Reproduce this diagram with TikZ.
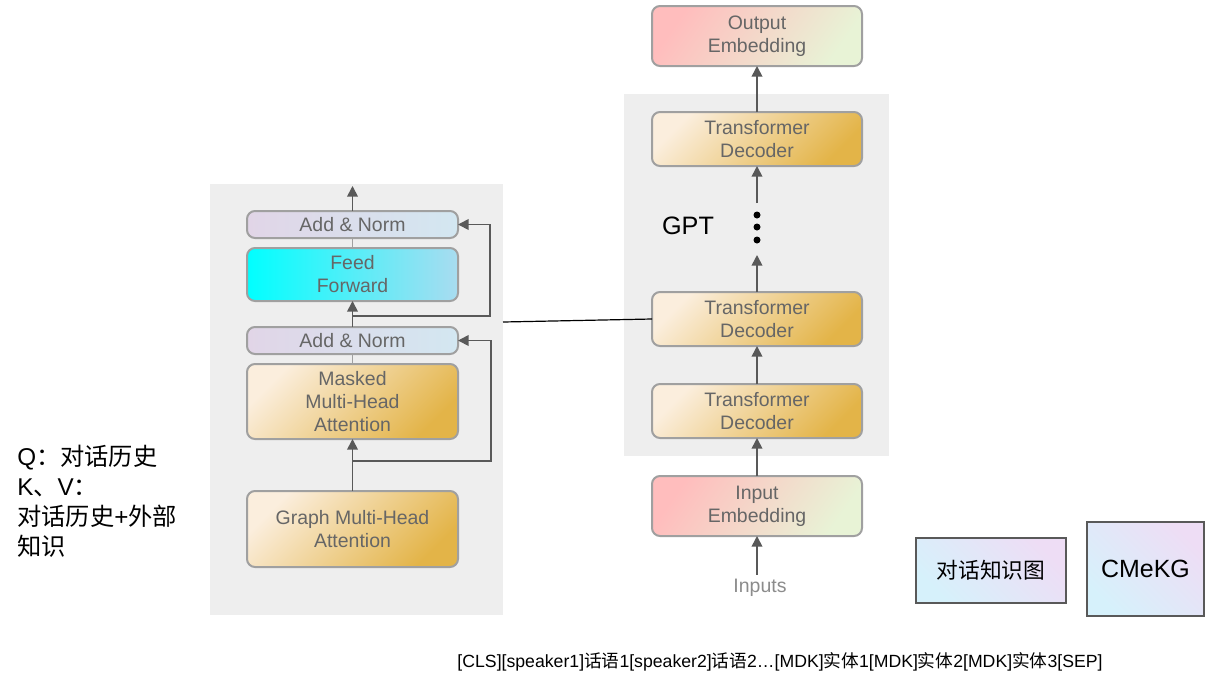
\documentclass[tikz,border=0pt]{standalone}
\usepackage{fontspec}
\setmainfont{Liberation Sans}
\newfontfamily\cjk{Noto Sans CJK SC}
\usetikzlibrary{arrows.meta,positioning,shapes.misc}

\definecolor{panelgray}{HTML}{EEEEEE}
\definecolor{boxline}{HTML}{A0A0A0}
\definecolor{boxtext}{HTML}{666666}
\definecolor{arrowgray}{HTML}{595959}
\definecolor{anL}{HTML}{E1D5E7}
\definecolor{anR}{HTML}{D3E7F1}
\definecolor{ffL}{HTML}{00FFFF}
\definecolor{ffR}{HTML}{A9DCF0}
\definecolor{warmA}{HTML}{FBEEDD}
\definecolor{warmB}{HTML}{E3B448}
\definecolor{embA}{HTML}{FFBDBD}
\definecolor{embB}{HTML}{E8F3D6}
\definecolor{kgA}{HTML}{D6F1FB}
\definecolor{kgB}{HTML}{EEDDF5}

\begin{document}
\begin{tikzpicture}[x=0.75pt,y=-0.75pt]
\tikzset{blk/.style ={draw=boxline, line width=1.5pt, rounded corners=6pt, inner sep=0pt, outer sep=0pt, align=center, text=boxtext, font=\fontsize{14.6}{17.25}\selectfont},
  addnorm/.style ={blk, left color=anL, right color=anR, minimum width=158.25pt, minimum height=20.25pt},
  feedfwd/.style ={blk, left color=ffL, right color=ffR, minimum width=158.25pt, minimum height=39.75pt},
  attn/.style ={blk, top color=warmA, bottom color=warmB, shading angle=45, minimum width=158.25pt},
  decoder/.style ={blk, top color=warmA, bottom color=warmB, shading angle=45, minimum width=157.5pt, minimum height=40.5pt},
  embed/.style ={blk, top color=embA, bottom color=embB, shading angle=55, minimum width=157.5pt, minimum height=45pt},
  kgbox/.style ={draw=black!65, line width=0.9pt, inner sep=0pt, outer sep=0pt, bottom color=kgA, top color=kgB, shading angle=-45, font=\fontsize{16.3}{20}\selectfont},
  panel/.style ={fill=panelgray, inner sep=0pt, outer sep=0pt},
  flow/.style ={draw=arrowgray, line width=1.3pt, -{Triangle[width=8pt,length=8pt]}},
  joint/.style ={draw=boxline, line width=0.8pt}}
\useasboundingbox[fill=white] (0,0) rectangle (1226,693);

% panels
\node[panel, minimum width=219.75pt, minimum height=323.25pt] (lpanel) at (356.5,399.5) {};
\node[panel, minimum width=198.75pt, minimum height=271.5pt] (rpanel) at (756.5,275) {};

% graph attention block
\node[attn, minimum height=57pt] (gmha) at (352.5,529) {Graph Multi-Head\\Attention};
\node[attn, minimum height=56.25pt] (mmha) at (352.5,401.5) {Masked\\Multi-Head\\Attention};
\node[addnorm] (an2) at (352.5,340.5) {Add \& Norm};
\node[feedfwd] (ff) at (352.5,274.5) {Feed\\Forward};
\node[addnorm] (an1) at (352.5,224.5) {Add \& Norm};
\coordinate (out1) at (352.5,186);
\coordinate (res1) at (352.5,461);
\coordinate (res2) at (352.5,316);

\draw[flow] (gmha.north) -- (mmha.south);
\draw[joint] (mmha.north) -- (an2.south);
\draw[flow] (an2.north) -- (ff.south);
\draw[joint] (ff.north) -- (an1.south);
\draw[flow] (an1.north) -- (out1);
\draw[flow] (res1) -- (491,461) |- (an2.east);
\draw[flow] (res2) -- (490,316) |- (an1.east);

% GPT stack
\node[embed] (oe) at (757,36) {Output\\Embedding};
\node[decoder] (td4) at (757,139) {Transformer\\Decoder};
\node[decoder] (td2) at (757,319) {Transformer\\Decoder};
\node[decoder] (td1) at (757,411) {Transformer\\Decoder};
\node[embed] (ie) at (757,506) {Input\\Embedding};
\node[text=black!45, font=\fontsize{14.6}{17}\selectfont] (inp) at (760,588) {Inputs};
\node[font=\fontsize{18.9}{22}\selectfont] (gpt) at (688,226) {GPT};
\foreach \y in {215,227,240}
  \fill (757,\y) circle (3.5);
\coordinate (dtop) at (757,203);
\coordinate (dbot) at (757,255);

\draw[flow] (td4.north) -- (oe.south);
\draw[flow] (dtop) -- (td4.south);
\draw[flow] (td2.north) -- (dbot);
\draw[flow] (td1.north) -- (td2.south);
\draw[flow] (ie.north) -- (td1.south);
\draw[flow] (inp.north -| ie.south) -- (ie.south);
\draw[line width=0.9pt] (lpanel.east |- 0,322) -- (td2.west);

% knowledge graphs
\node[kgbox, minimum width=112.5pt, minimum height=48.75pt] (dkg) at (991,570.5) {\cjk 对话知识图\hspace{8pt}};
\node[kgbox, minimum width=87.75pt, minimum height=70.5pt, font=\fontsize{18.7}{22}\selectfont] (cmekg) at (1145.5,569) {CMeKG};

% notes
\node[anchor=north west, align=left, inner sep=0pt, font=\fontsize{18.2}{22.5}\selectfont] (qkv) at (17,445) {Q{\cjk ：对话历史}\\K{\cjk 、}V{\cjk ：}\\{\cjk 对话历史}+{\cjk 外部}\\{\cjk 知识}};
\node[font=\fontsize{13.25}{15}\selectfont] (seq) at (780,662) {[CLS][speaker1]{\cjk 话语}1[speaker2]{\cjk 话语}2…[MDK]{\cjk 实体}1[MDK]{\cjk 实体}2[MDK]{\cjk 实体}3[SEP]};
\end{tikzpicture}
\end{document}
